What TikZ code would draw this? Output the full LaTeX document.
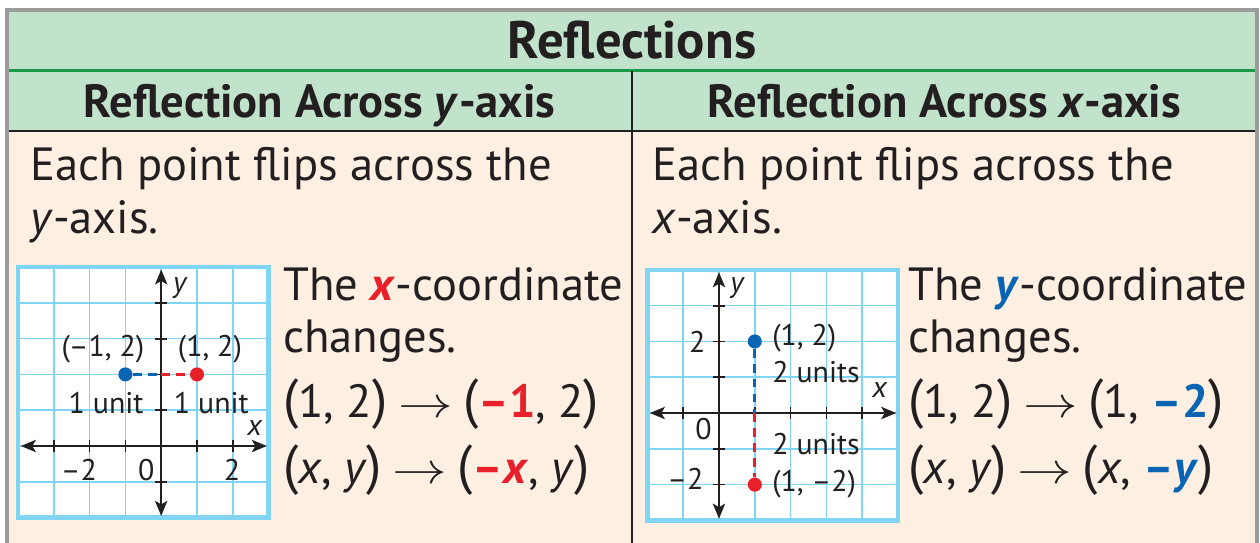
\documentclass[tikz,border=0pt]{standalone}
\usepackage{graphicx}
\usepackage{fontspec}
\setmainfont{PT Sans}
\usetikzlibrary{arrows.meta, calc}

\definecolor{bandgreen}{HTML}{C1E3CC}
\definecolor{linegreen}{HTML}{1A9A48}
\definecolor{cream}{HTML}{FDF0E2}
\definecolor{framegray}{HTML}{9B9B9B}
\definecolor{gridblue}{HTML}{80D4F4}
\definecolor{ptblue}{HTML}{0A64B4}
\definecolor{ptred}{HTML}{E8202A}
\definecolor{ink}{HTML}{231F20}

\newcommand{\redx}{\textcolor{ptred}{\textbf{\textit{x}}}}
\newcommand{\bluey}{\textcolor{ptblue}{\textbf{\textit{y}}}}
\newcommand{\opn}{{\fontsize{31}{31}\selectfont(}}
\newcommand{\cls}{{\fontsize{31}{31}\selectfont)}}
\newcommand{\goesto}{\hspace{6pt}\scalebox{1.25}[1]{$\rightarrow$}\hspace{6pt}}

\begin{document}
\begin{tikzpicture}[
    x=0.02cm, y=-0.02cm,
    text=ink,
    title/.style={font=\bfseries\fontsize{30}{33}\selectfont, anchor=base, inner sep=0pt},
    head/.style={font=\bfseries\fontsize{26.5}{30}\selectfont, anchor=base, inner sep=0pt},
    body/.style={font=\fontsize{26.5}{30}\selectfont, anchor=base west, inner sep=0pt},
    lbl/.style={font=\fontsize{17}{19}\selectfont, anchor=base, inner sep=0pt},
    axis/.style={ink, line width=1.1pt, {Stealth[length=8.5pt, width=7pt, inset=2pt]}-{Stealth[length=8.5pt, width=7pt, inset=2pt]}},
    tick/.style={ink, line width=1pt},
    dot/.style={circle, inner sep=0pt, minimum size=8pt},
    bluedash/.style={ptblue, line width=1.7pt, dash pattern=on 5pt off 3.5pt},
    reddash/.style={ptred, line width=1.7pt, dash pattern=on 5pt off 3.5pt}
]

\useasboundingbox (0,0) rectangle (1260,542);
\fill[white] (0,0) rectangle (1260,542);

% --- Table frame ---
\fill[cream] (7,10) rectangle (1257,545);
\fill[bandgreen] (7,10) rectangle (1257,131);
\draw[linegreen, line width=1.5pt] (7,70.5) -- (1257,70.5);
\draw[ink, line width=1.2pt] (7,131) -- (1257,131);
\draw[ink, line width=1.2pt] (632,71) -- (632,545);
\draw[framegray, line width=1.8pt] (7,545) -- (7,10) -- (1257,10) -- (1257,545);

\node[title] (ttl) at (632,58) {Reflections};
\node[head] (hdl) at (319.5,117) {Reflection Across \textit{y}-axis};
\node[head] (hdr) at (944.5,117) {Reflection Across \textit{x}-axis};

% --- Across y-axis ---
\node[body] (el1) at (30,180) {Each point flips across the};
\node[body] (el2) at (30,233) {\textit{y}-axis.};

\begin{scope}[shift={(161.2,446)}, x=0.716cm, y=0.716cm]
    \fill[white] (-4,-2) rectangle (3,5);
    \draw[gridblue, line width=0.9pt, step=1] (-4,-2) grid (3,5);
    \draw[gridblue, line width=2.6pt] (-4,-2) rectangle (3,5);
    \foreach \t in {-3,-2,-1,1,2} \draw[tick] (\t,-0.17) -- (\t,0.17);
    \foreach \t in {-1,1,2,3,4} \draw[tick] (-0.17,\t) -- (0.17,\t);
    \coordinate (lxa) at (-3.92,0);
    \coordinate (lxb) at (2.95,0);
    \coordinate (lya) at (0,-1.95);
    \coordinate (lyb) at (0,4.93);
    \draw[axis] (lxa) -- (lxb);
    \draw[axis] (lya) -- (lyb);
    \node[dot, fill=ptblue] (lp) at (-1,2) {};
    \node[dot, fill=ptred] (lq) at (1,2) {};
    \coordinate (lm) at (0,2);
    \draw[bluedash] (lp) -- (lm);
    \draw[reddash] (lm) -- (lq);
    \node[lbl] (lpl) at (-1.63,2.51) {(–1, 2)};
    \node[lbl] (lql) at (1.36,2.51) {(1, 2)};
    \node[lbl] (lu1) at (-1.54,0.92) {1 unit};
    \node[lbl] (lu2) at (1.4,0.92) {1 unit};
    \node[lbl] (lt1) at (-2.3,-0.95) {–2};
    \node[lbl] (lt0) at (-0.42,-0.95) {0};
    \node[lbl] (lt2) at (1.98,-0.95) {2};
    \node[lbl] (lyl) at (0.54,4.3) {\textit{y}};
    \node[lbl] (lxl) at (2.62,0.3) {\textit{x}};
\end{scope}

\node[body] (tl1) at (283,300) {The \redx-coordinate};
\node[body] (tl2) at (283,352) {changes.};
\node[body] (tl3) at (283,417) {\opn1, 2\cls\goesto\opn\textcolor{ptred}{\textbf{–1}}, 2\cls};
\node[body] (tl4) at (283,483) {\opn\textit{x}, \textit{y}\cls\goesto\opn\textcolor{ptred}{\textbf{–}}\redx, \textit{y}\cls};

% --- Across x-axis ---
\node[body] (er1) at (652,180) {Each point flips across the};
\node[body] (er2) at (652,233) {\textit{x}-axis.};

\begin{scope}[shift={(719,413)}, x=0.716cm, y=0.716cm]
    \fill[white] (-2,-3) rectangle (5,4);
    \draw[gridblue, line width=0.9pt, step=1] (-2,-3) grid (5,4);
    \draw[gridblue, line width=2.6pt] (-2,-3) rectangle (5,4);
    \foreach \t in {-1,1,2,3,4} \draw[tick] (\t,-0.17) -- (\t,0.17);
    \foreach \t in {-2,-1,1,2,3} \draw[tick] (-0.17,\t) -- (0.17,\t);
    \coordinate (rxa) at (-1.93,0);
    \coordinate (rxb) at (4.95,0);
    \coordinate (rya) at (0,-2.95);
    \coordinate (ryb) at (0,3.93);
    \draw[axis] (rxa) -- (rxb);
    \draw[axis] (rya) -- (ryb);
    \node[dot, fill=ptblue] (rp) at (1,2) {};
    \node[dot, fill=ptred] (rq) at (1,-2) {};
    \coordinate (rm) at (1,0);
    \draw[bluedash] (rp) -- (rm);
    \draw[reddash] (rm) -- (rq);
    \node[lbl, anchor=base west] (rpl) at (1.48,1.9) {(1, 2)};
    \node[lbl, anchor=base west] (rql) at (1.48,-2.2) {(1, –2)};
    \node[lbl, anchor=base west] (ru1) at (1.48,0.84) {2 units};
    \node[lbl, anchor=base west] (ru2) at (1.48,-1.17) {2 units};
    \node[lbl] (rt2) at (-0.61,1.7) {2};
    \node[lbl] (rt1) at (-0.94,-2.15) {–2};
    \node[lbl] (rt0) at (-0.43,-0.75) {0};
    \node[lbl] (ryl) at (0.52,3.38) {\textit{y}};
    \node[lbl] (rxl) at (4.5,0.42) {\textit{x}};
\end{scope}

\node[body] (tr1) at (908,300) {The \bluey-coordinate};
\node[body] (tr2) at (908,352) {changes.};
\node[body] (tr3) at (908,417) {\opn1, 2\cls\goesto\opn1, \textcolor{ptblue}{\textbf{–2}}\cls};
\node[body] (tr4) at (908,483) {\opn\textit{x}, \textit{y}\cls\goesto\opn\textit{x}, \textcolor{ptblue}{\textbf{–}}\bluey\cls};

\end{tikzpicture}
\end{document}
